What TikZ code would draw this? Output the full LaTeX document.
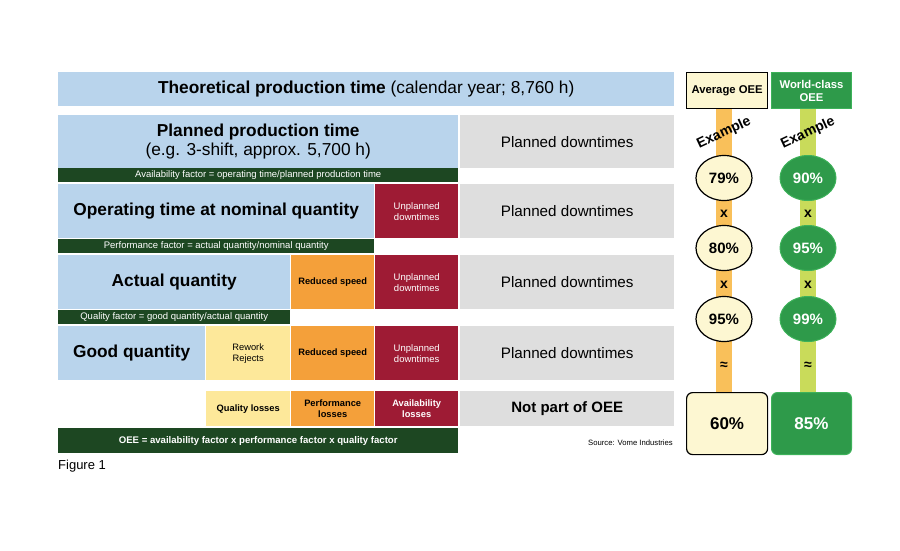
\documentclass[tikz,border=0pt]{standalone}
\usepackage{fontspec}
\setmainfont{Liberation Sans}
\usetikzlibrary{shapes.geometric,backgrounds}
\definecolor{lblue}{HTML}{B9D4EC}
\definecolor{lgray}{HTML}{DEDEDE}
\definecolor{dgreen}{HTML}{1D4722}
\definecolor{dred}{HTML}{9E1B34}
\definecolor{orng}{HTML}{F4A03A}
\definecolor{ylw}{HTML}{FDE89A}
\definecolor{lylw}{HTML}{FDF7D2}
\definecolor{grn}{HTML}{2E9A4A}
\definecolor{grnedge}{HTML}{3DB25A}
\definecolor{ostripe}{HTML}{F9C05A}
\definecolor{gstripe}{HTML}{C9DB5A}
\begin{document}
\begin{tikzpicture}[x=1pt,y=-1pt,
  cell/.style={anchor=north west, inner sep=0pt, align=center},
  big/.style={font=\fontsize{17.3}{19}\selectfont\bfseries},
  gbar/.style={cell, fill=dgreen, text=white, font=\fontsize{9.5}{10}\selectfont},
  small/.style={font=\fontsize{9.3}{11}\selectfont\bfseries},
  pd/.style={cell, fill=lgray, font=\fontsize{15.2}{17}\selectfont},
  unpl/.style={cell, fill=dred, text=white, font=\fontsize{9.5}{11}\selectfont},
  red/.style={cell, fill=orng, small},
  pct/.style={ellipse, minimum width=56, minimum height=45, inner sep=0pt, font=\fontsize{15}{17}\selectfont\bfseries},
  apct/.style={pct, fill=lylw, draw=black, line width=1.2pt},
  wpct/.style={pct, fill=grn, draw=grnedge, line width=1pt, text=white},
  op/.style={font=\fontsize{14}{16}\selectfont\bfseries},
  ex/.style={rotate=25, font=\fontsize{14}{16}\selectfont\bfseries}
]
\useasboundingbox (0,0) rectangle (900,550);
% row 1
\node[cell, fill=lblue, minimum width=616, minimum height=34, font=\fontsize{17.3}{19}\selectfont] (theo) at (58,72) {\textbf{Theoretical production time} (calendar year; 8,760 h)};
% row 2
\node[cell, fill=lblue, minimum width=400, minimum height=53, font=\fontsize{17.3}{19}\selectfont] (plan) at (58,115) {\textbf{Planned production time}\\(e.g. 3-shift, approx. 5,700 h)};
\node[pd, minimum width=214, minimum height=53] (pd1) at (460,115) {Planned downtimes};
\node[gbar, minimum width=400, minimum height=14] (avf) at (58,168) {Availability factor = operating time/planned production time};
% row 3
\node[cell, fill=lblue, minimum width=316, minimum height=54, big] (oper) at (58,184) {Operating time at nominal quantity};
\node[unpl, minimum width=83, minimum height=54] (un1) at (375,184) {Unplanned\\downtimes};
\node[pd, minimum width=214, minimum height=54] (pd2) at (460,184) {Planned downtimes};
\node[gbar, minimum width=316, minimum height=14] (pff) at (58,239) {Performance factor = actual quantity/nominal quantity};
% row 4
\node[cell, fill=lblue, minimum width=232, minimum height=54, big] (act) at (58,255) {Actual quantity};
\node[red, minimum width=83, minimum height=54] (rs1) at (291,255) {Reduced speed};
\node[unpl, minimum width=83, minimum height=54] (un2) at (375,255) {Unplanned\\downtimes};
\node[pd, minimum width=214, minimum height=54] (pd3) at (460,255) {Planned downtimes};
\node[gbar, minimum width=232, minimum height=14] (qf) at (58,310) {Quality factor = good quantity/actual quantity};
% row 5
\node[cell, fill=lblue, minimum width=147, minimum height=54, big] (good) at (58,326) {Good quantity};
\node[cell, fill=ylw, minimum width=84, minimum height=54, font=\fontsize{9.3}{11}\selectfont] (rew) at (206,326) {Rework\\Rejects};
\node[red, minimum width=83, minimum height=54] (rs2) at (291,326) {Reduced speed};
\node[unpl, minimum width=83, minimum height=54] (un3) at (375,326) {Unplanned\\downtimes};
\node[pd, minimum width=214, minimum height=54] (pd4) at (460,326) {Planned downtimes};
% row 6
\node[cell, fill=ylw, minimum width=84, minimum height=35, small] (ql) at (206,391) {Quality losses};
\node[red, minimum width=83, minimum height=35] (pl) at (291,391) {Performance\\losses};
\node[unpl, minimum width=83, minimum height=35, small] (al) at (375,391) {Availability\\losses};
\node[cell, fill=lgray, minimum width=214, minimum height=35, font=\fontsize{15}{17}\selectfont\bfseries] (npo) at (460,391) {Not part of OEE};
\node[cell, fill=dgreen, text=white, minimum width=400, minimum height=25, font=\fontsize{9.6}{12}\selectfont\bfseries] (oee) at (58,428) {OEE = availability factor x performance factor x quality factor};
\node[anchor=east, inner sep=0pt, font=\fontsize{7.7}{9}\selectfont] (src) at (673,443) {Source: Vome Industries};
\node[anchor=west, inner sep=0pt, font=\fontsize{13}{15}\selectfont] (fig) at (58,466) {Figure 1};
% right columns
\node[cell, fill=lylw, draw=black, line width=1.2pt, minimum width=81, minimum height=36, font=\fontsize{11.3}{13}\selectfont\bfseries] (avg) at (686,72) {Average OEE};
\node[cell, fill=grn, draw=grnedge, line width=1pt, text=white, minimum width=80, minimum height=36, font=\fontsize{11.3}{13}\selectfont\bfseries] (wc) at (771,72) {World-class\\OEE};
\node[cell, fill=lylw, draw=black, line width=1.2pt, rounded corners=6pt, minimum width=81, minimum height=62, font=\fontsize{17}{19}\selectfont\bfseries] (r60) at (686,392) {60\%};
\node[cell, fill=grn, draw=grnedge, line width=1pt, rounded corners=6pt, text=white, minimum width=80, minimum height=62, font=\fontsize{17}{19}\selectfont\bfseries] (r85) at (771,392) {85\%};
\node[apct] (a1) at (724,178) {79\%};
\node[op] (ax1) at (724,214) {x};
\node[apct] (a2) at (724,248) {80\%};
\node[op] (ax2) at (724,285) {x};
\node[apct] (a3) at (724,319) {95\%};
\node[op] (aap) at (724,366) {≈};
\node[wpct] (w1) at (808,178) {90\%};
\node[op] (wx1) at (808,214) {x};
\node[wpct] (w2) at (808,248) {95\%};
\node[op] (wx2) at (808,285) {x};
\node[wpct] (w3) at (808,319) {99\%};
\node[op] (wap) at (808,366) {≈};
\node[ex] (exa) at (724,133) {Example};
\node[ex] (exw) at (808,133) {Example};
\begin{scope}[on background layer]
\draw[ostripe, line width=16pt] (avg.south -| a1) -- (r60.north -| a1);
\draw[gstripe, line width=16pt] (wc.south -| w1) -- (r85.north -| w1);
\end{scope}
\end{tikzpicture}
\end{document}
